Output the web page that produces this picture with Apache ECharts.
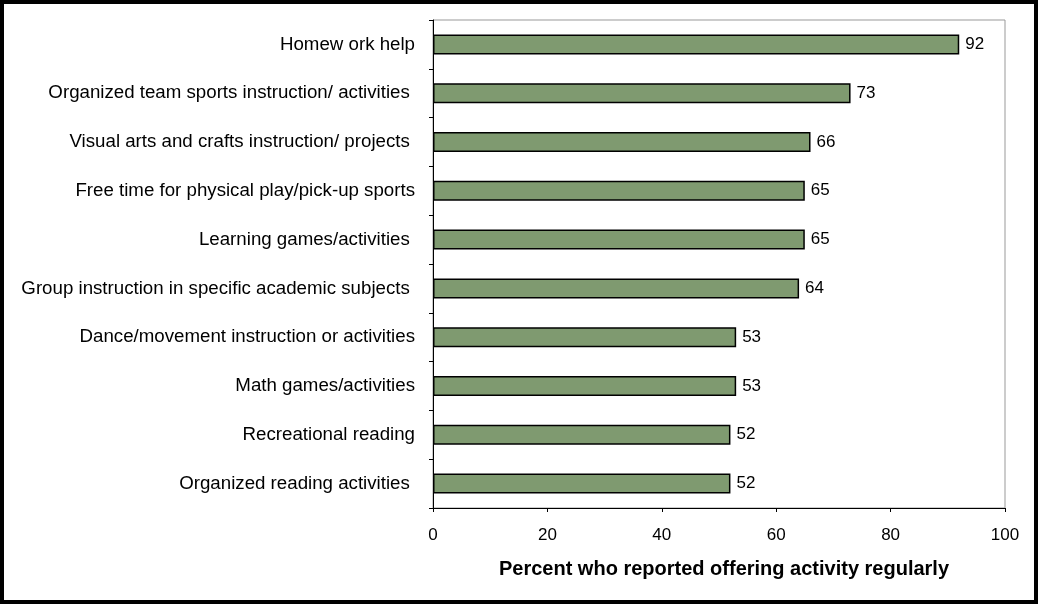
<!DOCTYPE html>
<html><head><meta charset="utf-8">
<script src="https://cdn.jsdelivr.net/npm/echarts@6/dist/echarts.min.js"></script>
<style>html,body{margin:0;padding:0;background:#fff}#c{width:1038px;height:604px}</style>
</head><body><div id="c"></div>
<script>
const categories = [
  "Homew ork help",
  "Organized team sports instruction/ activities ",
  "Visual arts and crafts instruction/ projects ",
  "Free time for physical play/pick-up sports",
  "Learning games/activities ",
  "Group instruction in specific academic subjects ",
  "Dance/movement instruction or activities",
  "Math games/activities",
  "Recreational reading",
  "Organized reading activities "
];
const values = [92, 73, 66, 65, 65, 64, 53, 53, 52, 52];
const xTicks = [0, 20, 40, 60, 80, 100];
const xTitle = "Percent who reported offering activity regularly";

const chart = echarts.init(document.getElementById('c'), null, {renderer: 'canvas'});
chart.setOption({
  animation: false,
  backgroundColor: '#fff',
  textStyle: {fontFamily: 'Liberation Sans, Arial, sans-serif'},
  grid: {left: 433, right: 33, top: 20, bottom: 96, show: true, borderColor: '#999', borderWidth: 1, containLabel: false},
  xAxis: {
    type: 'value', min: xTicks[0], max: xTicks[xTicks.length - 1], interval: 20,
    splitLine: {show: false},
    axisLine: {show: true, lineStyle: {color: '#000', width: 1}},
    axisTick: {show: true, length: 4, lineStyle: {color: '#000'}},
    axisLabel: {color: '#000', fontSize: 17, margin: 19, fontFamily: 'Liberation Sans'}
  },
  yAxis: {
    type: 'category', data: categories, inverse: true,
    axisLine: {show: true, lineStyle: {color: '#000', width: 1}},
    axisTick: {show: true, length: 4, lineStyle: {color: '#000'}},
    axisLabel: {color: '#000', fontSize: 18.7, margin: 18, fontFamily: 'Liberation Sans'}
  },
  series: [{
    type: 'bar', data: values, barWidth: 20,
    itemStyle: {color: '#7f9a70', borderColor: '#000', borderWidth: 1.5},
    label: {show: true, position: 'right', distance: 6, color: '#000', fontSize: 17, fontFamily: 'Liberation Sans'}
  }],
  graphic: [
    {type: 'text', x: 724, y: 569, style: {text: xTitle, font: 'bold 20px "Liberation Sans", Arial', fill: '#000', align: 'center', verticalAlign: 'middle'}},
    {type: 'rect', shape: {x: 2, y: 2, width: 1034, height: 600}, style: {fill: 'none', stroke: '#000', lineWidth: 4}}
  ]
});
</script></body></html>
